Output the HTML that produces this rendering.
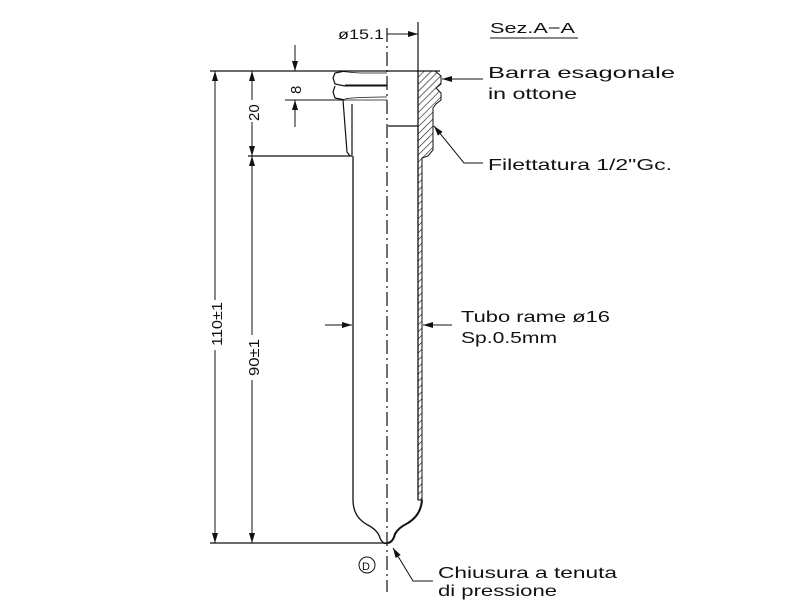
<!DOCTYPE html>
<html><head><style>body{margin:0;background:#fff}svg{display:block}</style></head><body>
<svg width="800" height="600" viewBox="0 0 800 600" xmlns="http://www.w3.org/2000/svg" font-family="Liberation Sans, sans-serif" fill="none" stroke="#111">
<defs>
<pattern id="h" width="5" height="5" patternUnits="userSpaceOnUse" patternTransform="rotate(45)"><line x1="0" y1="0" x2="0" y2="5" stroke="#111" stroke-width="1.2"/></pattern>
<marker id="a" markerWidth="10" markerHeight="6" refX="10" refY="3" orient="auto-start-reverse" markerUnits="userSpaceOnUse"><path d="M0,0L10,3L0,6z" fill="#111" stroke="none"/></marker>
</defs>
<line x1="387" y1="28" x2="387" y2="592" stroke-width="1.2" stroke-dasharray="14,4,2,4"/>
<line x1="210" y1="71" x2="440" y2="71" stroke-width="1.2"/>
<line x1="210" y1="543" x2="388" y2="543" stroke-width="1.2"/>
<path d="M345,71 L335,73 L333,78 L335,84 L345,86 M335,86 L333,92 L335,98 L345,100" stroke-width="1.2"/>
<path d="M345,86 L387,86 M345,85 L387,85" stroke-width="1"/>
<path d="M340,71 Q345,72 360,73 L387,73 M345,99 Q355,97 387,97 M334,100 L387,100" stroke-width="0.8"/>
<line x1="285" y1="100" x2="345" y2="100" stroke-width="1"/>
<path d="M343,100 L347,152 L350,156 M352,104 L352,156" stroke-width="1.2"/>
<line x1="248" y1="156" x2="352" y2="156" stroke-width="1.2"/>
<line x1="418" y1="22" x2="418" y2="71" stroke-width="1.2"/>
<line x1="418" y1="71" x2="418" y2="500" stroke-width="1.3"/>
<line x1="388" y1="126" x2="418" y2="126" stroke-width="1.2"/>
<path d="M418,71 L435,71 L441,76 L441,84 L436,88 L441,93 L441,100 L436,104 L433,108 L433,150 L428,156 L422,158 L422,500 L418,500 Z" fill="url(#h)" stroke-width="1"/>
<path d="M353,156 L353,500 Q353,516 366,524 Q378,530 380,538 Q383,545 388,543" stroke-width="1.3"/>
<path d="M422,500 Q421,515 408,523 Q398,528 395,534 Q393,542 388,543" stroke-width="2"/>
<line x1="215" y1="71" x2="215" y2="543" stroke-width="1" marker-start="url(#a)" marker-end="url(#a)"/>
<rect x="205" y="300" width="20" height="50" fill="#fff" stroke="none"/>
<text transform="translate(222,346) rotate(-90)" font-size="15" fill="#111" stroke="none" textLength="44" lengthAdjust="spacingAndGlyphs">110±1</text>
<line x1="252" y1="156" x2="252" y2="543" stroke-width="1" marker-start="url(#a)" marker-end="url(#a)"/>
<rect x="242" y="335" width="20" height="45" fill="#fff" stroke="none"/>
<text transform="translate(259,376) rotate(-90)" font-size="15" fill="#111" stroke="none" textLength="37" lengthAdjust="spacingAndGlyphs">90±1</text>
<line x1="252" y1="71" x2="252" y2="156" stroke-width="1" marker-start="url(#a)" marker-end="url(#a)"/>
<rect x="242" y="100" width="20" height="22" fill="#fff" stroke="none"/>
<text transform="translate(259,121) rotate(-90)" font-size="15" fill="#111" stroke="none">20</text>
<line x1="295" y1="45" x2="295" y2="71" stroke-width="1" marker-end="url(#a)"/>
<line x1="295" y1="127" x2="295" y2="100" stroke-width="1" marker-end="url(#a)"/>
<text transform="translate(301,94) rotate(-90)" font-size="15" fill="#111" stroke="none">8</text>
<text x="338" y="39" font-size="14" fill="#111" stroke="none" textLength="46" lengthAdjust="spacingAndGlyphs">ø15.1</text>
<line x1="387" y1="34" x2="418" y2="34" stroke-width="1" marker-end="url(#a)"/>
<text x="490" y="33" font-size="15" fill="#111" stroke="none" textLength="85" lengthAdjust="spacingAndGlyphs">Sez.A−A</text>
<line x1="490" y1="38" x2="578" y2="38" stroke-width="1"/>
<line x1="483" y1="79" x2="442" y2="79" stroke-width="1" marker-end="url(#a)"/>
<text x="488" y="78" font-size="16" fill="#111" stroke="none" textLength="187" lengthAdjust="spacingAndGlyphs">Barra esagonale</text>
<text x="488" y="99" font-size="16" fill="#111" stroke="none" textLength="89" lengthAdjust="spacingAndGlyphs">in ottone</text>
<path d="M483,163 L464,163 L434,126" stroke-width="1" marker-end="url(#a)"/>
<text x="488" y="170" font-size="16" fill="#111" stroke="none" textLength="184" lengthAdjust="spacingAndGlyphs">Filettatura 1/2"Gc.</text>
<line x1="325" y1="325" x2="352" y2="325" stroke-width="1" marker-end="url(#a)"/>
<line x1="452" y1="325" x2="423" y2="325" stroke-width="1" marker-end="url(#a)"/>
<text x="461" y="322" font-size="16" fill="#111" stroke="none" textLength="149" lengthAdjust="spacingAndGlyphs">Tubo rame ø16</text>
<text x="461" y="343" font-size="16" fill="#111" stroke="none" textLength="96" lengthAdjust="spacingAndGlyphs">Sp.0.5mm</text>
<path d="M433,581 L413,581 L393,548" stroke-width="1" marker-end="url(#a)"/>
<text x="438" y="578" font-size="16" fill="#111" stroke="none" textLength="179" lengthAdjust="spacingAndGlyphs">Chiusura a tenuta</text>
<text x="438" y="596" font-size="16" fill="#111" stroke="none" textLength="119" lengthAdjust="spacingAndGlyphs">di pressione</text>
<circle cx="367" cy="565" r="8" stroke-width="1"/>
<text x="362" y="570" font-size="11" fill="#111" stroke="none">D</text>
</svg>
</body></html>
